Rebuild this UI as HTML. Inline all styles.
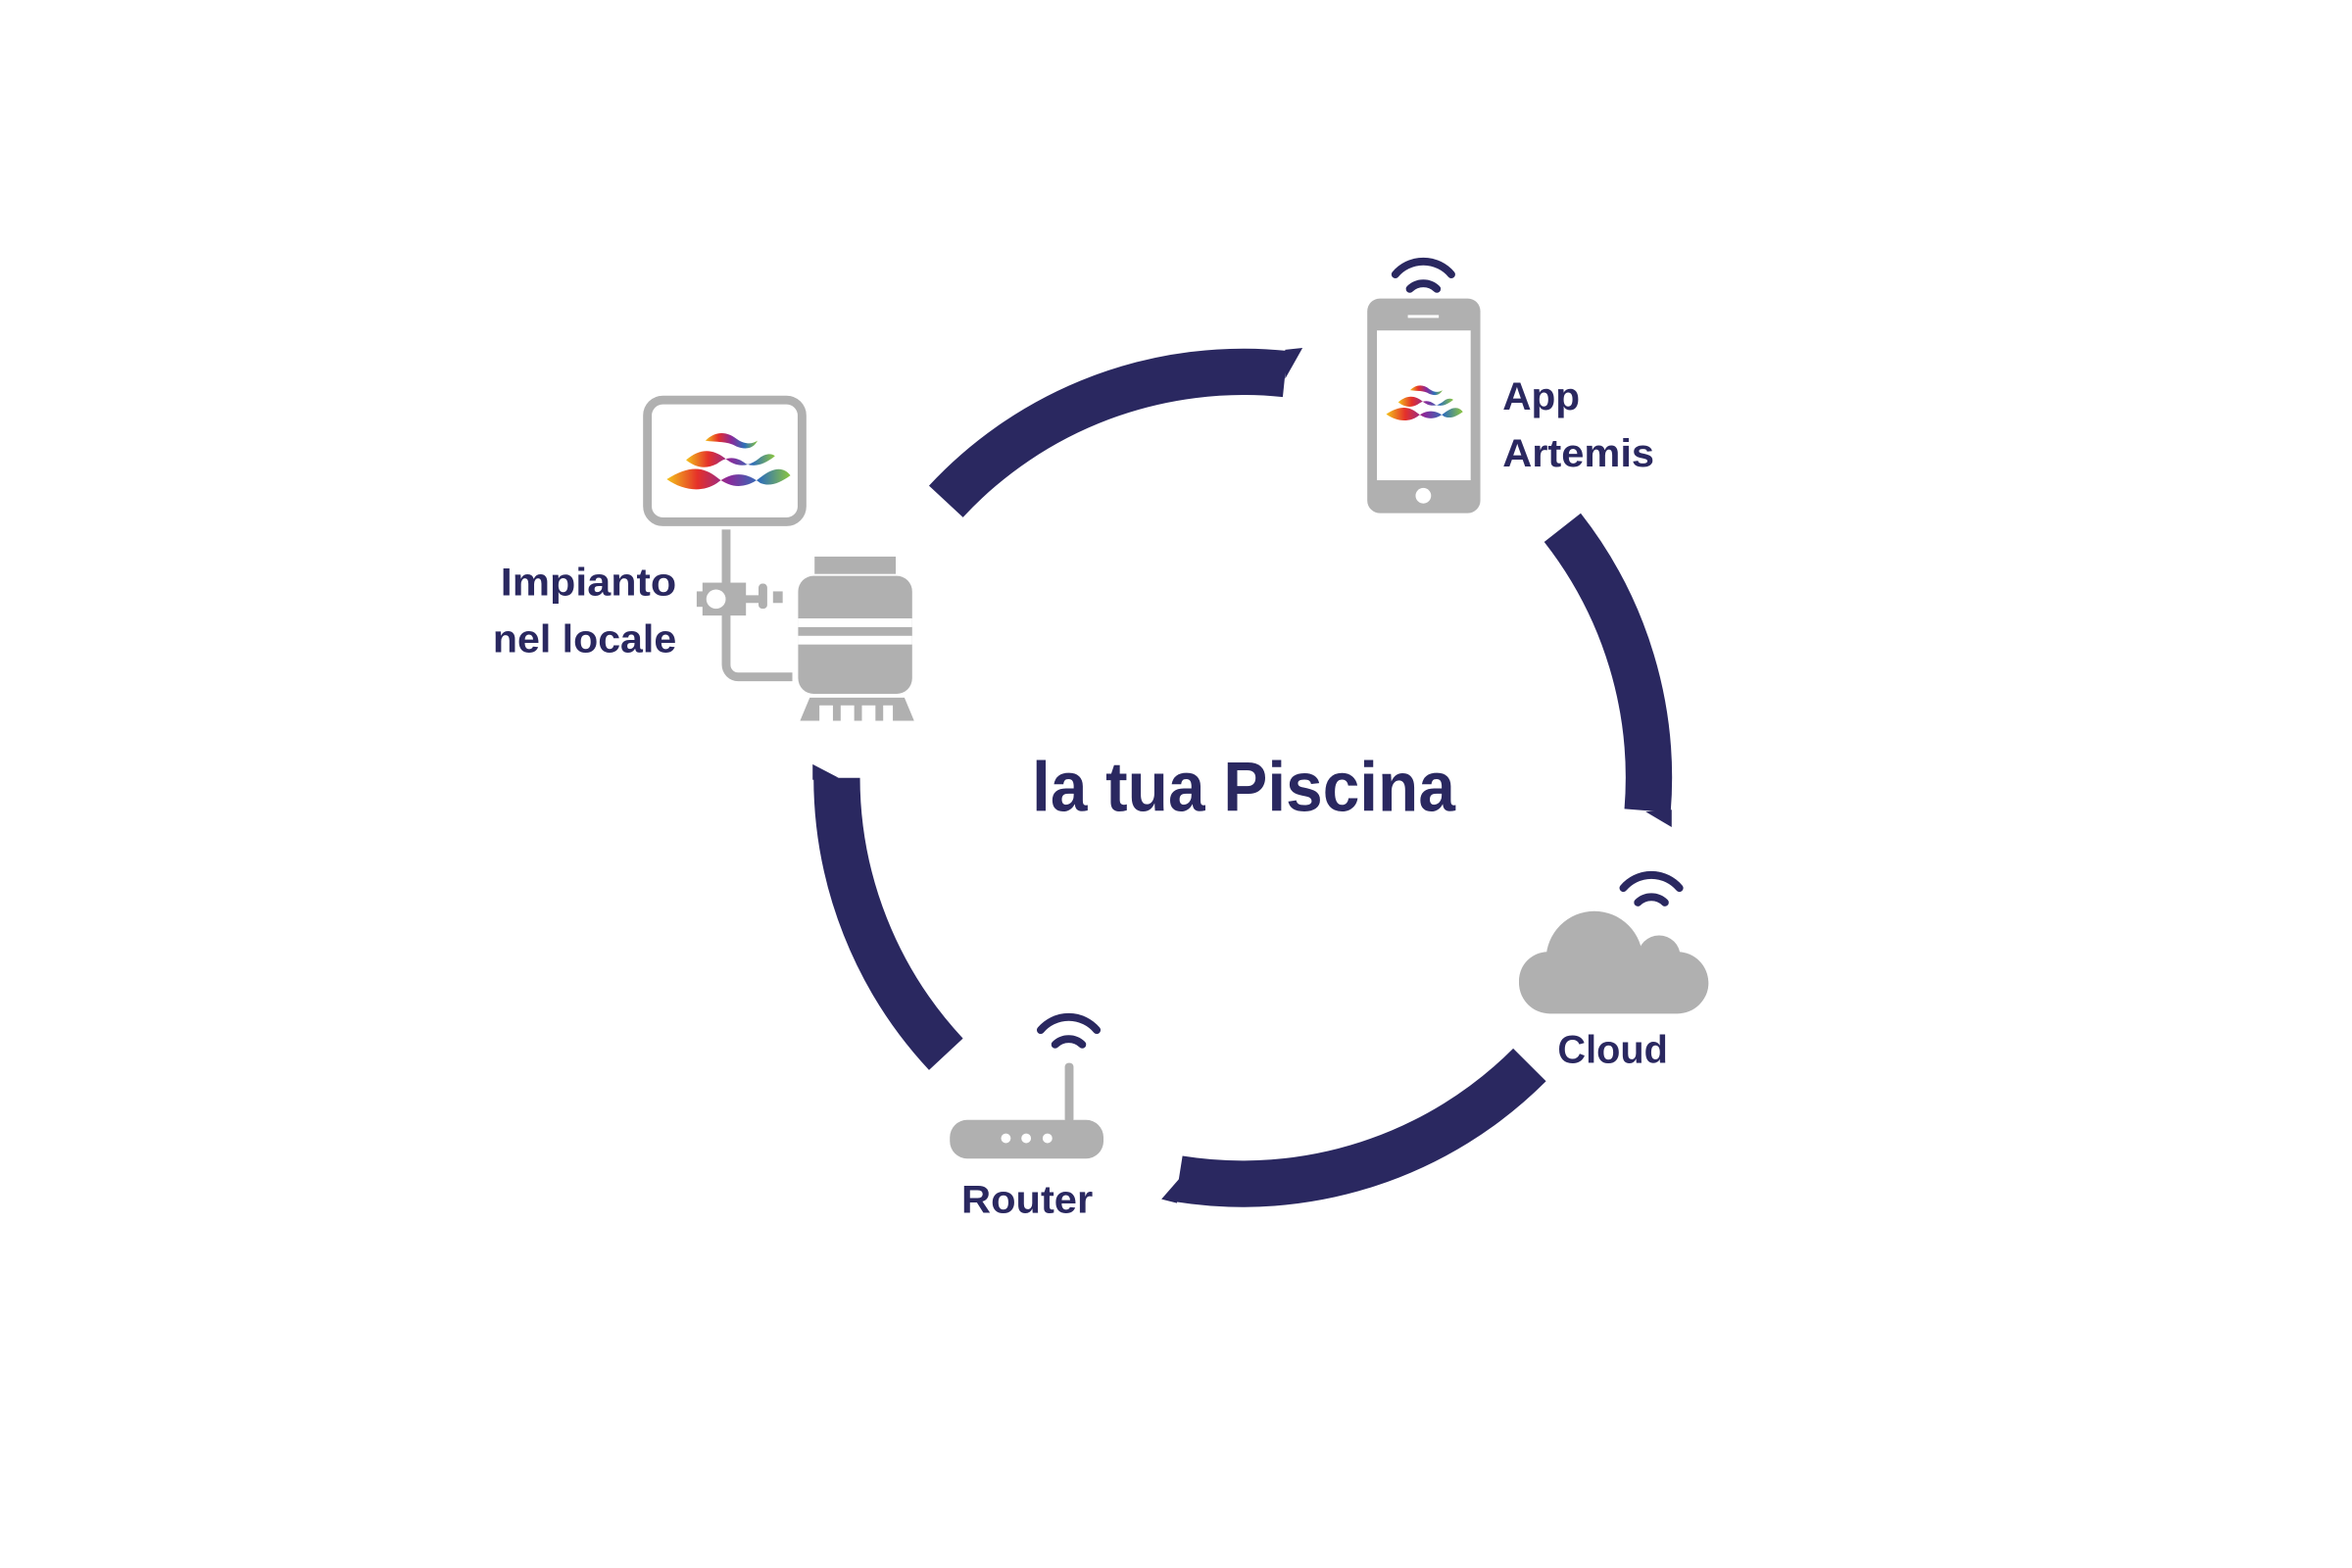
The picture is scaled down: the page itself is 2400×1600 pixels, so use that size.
<!DOCTYPE html>
<html><head><meta charset="utf-8"><style>
html,body{margin:0;padding:0;background:#fff;}
svg{display:block;}
text{font-family:"Liberation Sans",sans-serif;font-weight:bold;fill:#2a2860;}
</style></head><body>
<svg width="2400" height="1600" viewBox="0 0 2400 1600" xmlns="http://www.w3.org/2000/svg">
<defs>
<linearGradient id="rb" x1="0" y1="0" x2="1" y2="0">
<stop offset="0" stop-color="#f3c21a"/><stop offset="0.25" stop-color="#e5302a"/>
<stop offset="0.5" stop-color="#8a2a9a"/><stop offset="0.75" stop-color="#2f6fb8"/>
<stop offset="1" stop-color="#8cc63f"/></linearGradient>
<g id="logo">
<path d="M-62,22 C-40,8 -25,8 -10,20 C5,32 20,32 35,20 C50,8 60,10 66,18 C55,26 45,30 35,26 C20,14 5,14 -10,26 C-25,36 -45,34 -62,22Z" fill="url(#rb)"/>
<path d="M-42,2 C-28,-10 -15,-10 -2,0 C10,10 22,10 34,0 C42,-6 48,-4 50,-2 C40,6 30,10 20,6 C10,-2 0,-2 -10,6 C-22,12 -32,10 -42,2Z" fill="url(#rb)"/>
<path d="M-22,-18 C-12,-28 0,-28 10,-20 C18,-14 26,-14 32,-18 C28,-10 20,-8 10,-12 C0,-18 -10,-16 -22,-18Z" fill="url(#rb)"/>
</g>
<g id="wifi" fill="none" stroke="#2a2860" stroke-width="8" stroke-linecap="round">
<path d="M-29,-6 A38,38 0 0 1 29,-6"/>
<path d="M-14,9 A20,20 0 0 1 14,9"/>
</g>
</defs>
<g transform="scale(0.986)">
<g fill="none" stroke="#2a2860" stroke-width="48">
<path d="M979,519 A420,420 0 0 1 1330,387"/>
<path d="M1617,546 A420,420 0 0 1 1705,839"/>
<path d="M1583,1102 A420,420 0 0 1 1220,1220"/>
<path d="M979,1091 A420,420 0 0 1 866,805"/>
</g>
<g fill="#2a2860">
<path d="M1330,362 L1348,360 L1330,392 Z"/>
<path d="M1730,838 L1730,856 L1703,840 Z"/>
<path d="M1218,1245 L1202,1241 L1222,1218 Z"/>
<path d="M841,807 L841,791 L868,805 Z"/>
</g>
<text x="1068" y="839" font-size="72" textLength="438" lengthAdjust="spacingAndGlyphs">la tua Piscina</text>
<rect x="670" y="414" width="160" height="126" rx="16" fill="#fff" stroke="#b0b0b0" stroke-width="9"/>
<use href="#logo" transform="translate(752,474)"/>
<g fill="#b0b0b0">
<rect x="747" y="548" width="9" height="56"/>
<rect x="727" y="603" width="45" height="34"/>
<rect x="721" y="612" width="8" height="16"/>
<rect x="768" y="616" width="20" height="8"/>
<rect x="785" y="604" width="9" height="26" rx="4"/>
<rect x="800" y="612" width="10" height="12"/>
<path d="M747,636 h9 v52 a8,8 0 0 0 8,8 h56 v9 h-56 a17,17 0 0 1 -17,-17z"/>
<rect x="843" y="576" width="84" height="18"/>
<rect x="826" y="596" width="118" height="122" rx="16"/>
<path d="M838,722 h98 l10,24 h-118z"/>
</g>
<circle cx="741" cy="620" r="10" fill="#fff"/>
<rect x="826" y="640" width="118" height="9" fill="#fff"/>
<rect x="826" y="658" width="118" height="9" fill="#fff"/>
<g fill="#fff"><rect x="848" y="730" width="14" height="16"/><rect x="870" y="730" width="14" height="16"/><rect x="892" y="730" width="14" height="16"/><rect x="914" y="730" width="10" height="16"/></g>
<text x="700" y="616" font-size="40" text-anchor="end" textLength="182" lengthAdjust="spacingAndGlyphs">Impianto</text>
<text x="700" y="675" font-size="40" text-anchor="end" textLength="190" lengthAdjust="spacingAndGlyphs">nel locale</text>
<rect x="1415" y="309" width="117" height="222" rx="13" fill="#b0b0b0"/>
<rect x="1425" y="342" width="97" height="155" fill="#fff"/>
<rect x="1457" y="326" width="32" height="3" fill="#fff"/>
<circle cx="1473" cy="513" r="8" fill="#fff"/>
<use href="#logo" transform="translate(1473,415) scale(0.62)"/>
<use href="#wifi" transform="translate(1473,290)"/>
<text x="1555" y="424" font-size="40" textLength="80" lengthAdjust="spacingAndGlyphs">App</text>
<text x="1555" y="483" font-size="40" textLength="157" lengthAdjust="spacingAndGlyphs">Artemis</text>
<g fill="#b0b0b0">
<rect x="1572" y="985" width="196" height="64" rx="32"/>
<circle cx="1650" cy="993" r="50"/>
<circle cx="1717" cy="990" r="22"/>
<circle cx="1602" cy="1015" r="30"/>
<circle cx="1740" cy="1018" r="28"/>
</g>
<use href="#wifi" transform="translate(1709,925)"/>
<text x="1669" y="1100" font-size="40" text-anchor="middle" textLength="114" lengthAdjust="spacingAndGlyphs">Cloud</text>
<g fill="#b0b0b0">
<rect x="983" y="1159" width="159" height="40" rx="18"/>
<rect x="1102" y="1100" width="9" height="62" rx="4"/>
</g>
<g fill="#fff"><circle cx="1041" cy="1178" r="5"/><circle cx="1062" cy="1178" r="5"/><circle cx="1084" cy="1178" r="5"/></g>
<use href="#wifi" transform="translate(1106,1072)"/>
<text x="1063" y="1255" font-size="40" text-anchor="middle" textLength="136" lengthAdjust="spacingAndGlyphs">Router</text>
</g>
</svg>
</body></html>
